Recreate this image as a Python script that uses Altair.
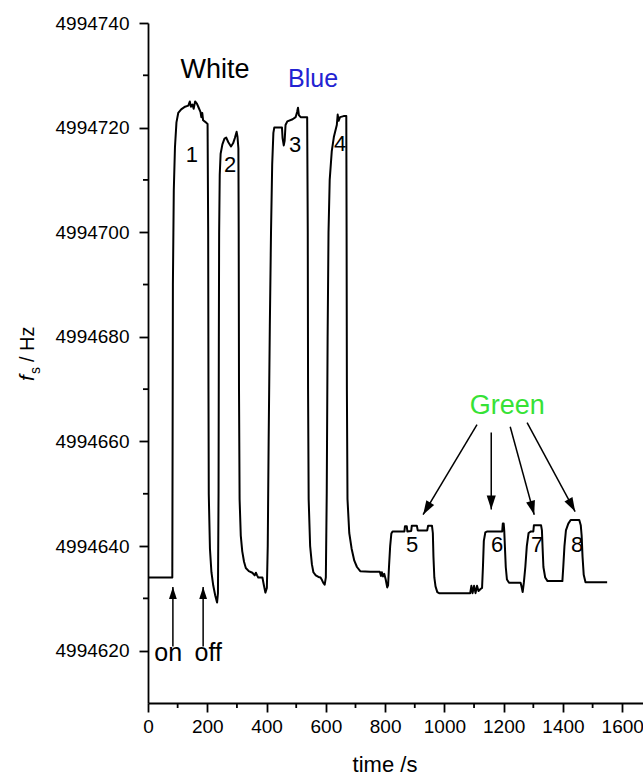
import math
import altair as alt
import pandas as pd

# ---------------- data ----------------
time_s = [0, 82, 83, 84, 87, 91, 96, 102, 112, 125, 136, 141, 145, 150, 154, 159, 165, 171, 177, 180,
          183, 186, 193, 201, 203, 204, 205, 209, 214, 220, 227, 233, 236, 238, 239, 240, 242, 245, 251,
          258, 264, 271, 280, 287, 293, 299, 302, 305, 306, 307, 309, 313, 318, 324, 330, 340, 352, 360,
          364, 368, 372, 386, 391, 396, 401, 404, 407, 411, 415, 419, 423, 426, 452, 454, 458, 461, 464,
          470, 488, 498, 503, 506, 509, 515, 537, 539, 540, 542, 547, 553, 558, 566, 575, 582, 587, 591,
          596, 600, 603, 606, 609, 613, 620, 627, 633, 637, 640, 643, 648, 660, 669, 670, 671, 673, 679,
          687, 696, 705, 716, 750, 782, 786, 789, 793, 797, 802, 807, 810, 813, 817, 821, 825, 865, 867,
          873, 875, 888, 890, 907, 910, 942, 945, 958, 961, 963, 966, 970, 976, 982, 1087, 1091, 1095,
          1100, 1105, 1110, 1115, 1122, 1127, 1130, 1133, 1138, 1145, 1195, 1197, 1200, 1202, 1204, 1207,
          1211, 1218, 1257, 1260, 1264, 1268, 1273, 1278, 1284, 1292, 1300, 1302, 1326, 1329, 1331, 1334,
          1340, 1348, 1398, 1401, 1405, 1410, 1418, 1426, 1455, 1460, 1463, 1466, 1470, 1476, 1549]
freq_hz = [4994634.0, 4994634.0, 4994660.0, 4994690.0, 4994708.0, 4994716.3, 4994721.0, 4994722.8,
           4994723.5, 4994724.0, 4994724.2, 4994725.0, 4994724.0, 4994724.4, 4994723.6, 4994725.0,
           4994724.6, 4994723.8, 4994723.0, 4994722.0, 4994722.8, 4994721.4, 4994721.1, 4994720.7,
           4994700.0, 4994670.0, 4994650.0, 4994639.5, 4994635.0, 4994632.5, 4994630.5, 4994629.2,
           4994631.0, 4994650.0, 4994680.0, 4994700.0, 4994711.0, 4994715.0, 4994716.8, 4994717.9,
           4994718.1, 4994717.2, 4994716.4, 4994717.0, 4994718.0, 4994719.2, 4994718.2, 4994716.0,
           4994700.0, 4994670.0, 4994649.0, 4994642.0, 4994639.0, 4994637.0, 4994635.8, 4994635.2,
           4994634.9, 4994634.4, 4994634.9, 4994634.4, 4994634.0, 4994634.0, 4994632.5, 4994631.1,
           4994632.0, 4994640.0, 4994660.0, 4994682.0, 4994700.0, 4994713.0, 4994719.0, 4994720.0,
           4994720.0, 4994718.0, 4994716.6, 4994717.5, 4994720.5, 4994721.2, 4994721.6, 4994722.0,
           4994723.0, 4994723.8, 4994722.4, 4994722.0, 4994722.0, 4994700.0, 4994670.0, 4994649.0,
           4994640.0, 4994636.5, 4994635.0, 4994634.4, 4994634.1, 4994634.0, 4994633.5, 4994633.0,
           4994632.6, 4994634.0, 4994650.0, 4994680.0, 4994700.0, 4994710.0, 4994715.5, 4994718.2,
           4994719.6, 4994720.5, 4994722.5, 4994721.3, 4994722.0, 4994722.2, 4994722.2, 4994700.0,
           4994670.0, 4994649.0, 4994642.5, 4994639.5, 4994637.2, 4994636.0, 4994635.2, 4994635.1,
           4994635.1, 4994634.3, 4994635.0, 4994634.2, 4994634.7, 4994633.6, 4994632.1, 4994632.5,
           4994636.0, 4994640.0, 4994642.4, 4994642.8, 4994642.8, 4994643.8, 4994643.8, 4994642.8,
           4994642.9, 4994643.9, 4994643.9, 4994643.0, 4994643.0, 4994643.9, 4994643.9, 4994642.5,
           4994638.0, 4994634.0, 4994632.3, 4994631.2, 4994631.0, 4994631.0, 4994632.4, 4994631.0,
           4994632.4, 4994631.0, 4994632.4, 4994631.4, 4994631.8, 4994632.0, 4994636.0, 4994641.0,
           4994642.6, 4994642.8, 4994642.8, 4994644.3, 4994644.3, 4994642.8, 4994640.0, 4994636.0,
           4994633.6, 4994633.0, 4994633.0, 4994632.3, 4994631.2, 4994633.0, 4994636.0, 4994640.0,
           4994642.5, 4994642.8, 4994642.8, 4994644.0, 4994644.0, 4994643.0, 4994640.0, 4994636.0,
           4994634.0, 4994633.3, 4994633.3, 4994636.0, 4994640.0, 4994643.0, 4994644.3, 4994645.0,
           4994645.0, 4994644.0, 4994642.0, 4994638.0, 4994634.5, 4994633.1, 4994633.1]

x_major_ticks = [0, 200, 400, 600, 800, 1000, 1200, 1400, 1600]
x_minor_ticks = [100, 300, 500, 700, 900, 1100, 1300, 1500]
y_major_ticks = [4994620, 4994640, 4994660, 4994680, 4994700, 4994720, 4994740]
y_minor_ticks = [4994630, 4994650, 4994670, 4994690, 4994710, 4994730]

# numbered peaks
peak_labels = ["1", "2", "3", "4", "5", "6", "7", "8"]
peak_label_t = [148, 277, 496, 648, 891, 1178, 1313, 1448]
peak_label_f = [4994714.8, 4994712.9, 4994716.7, 4994716.9, 4994640.3, 4994640.3, 4994640.3, 4994640.3]

# on / off markers
onoff_labels = ["on", "off"]
onoff_label_t = [68, 203]
onoff_label_f = [4994619.5, 4994619.5]
onoff_tail_t = [84, 186]
onoff_tail_f = [4994620.8, 4994620.8]
onoff_tip_t = [84, 186]
onoff_tip_f = [4994632.2, 4994632.2]

# Green arrows
green_tail_t = [1110, 1158, 1222, 1279]
green_tail_f = [4994663.2, 4994661.7, 4994662.8, 4994663.6]
green_tip_t = [928, 1158, 1303, 1441]
green_tip_f = [4994646.0, 4994647.0, 4994646.0, 4994646.6]

# colour group labels
group_labels = ["White", "Blue", "Green"]
group_t = [226, 557, 1212]
group_f = [4994731.0, 4994729.3, 4994666.8]
group_colors = ["#000000", "#2323d2", "#36e236"]
group_sizes = [27, 25, 27]

# ---------------- layout ----------------
X_MAX = 1670
Y_MIN, Y_MAX = 4994610, 4994740
W, H = 495, 680
PAD_L, PAD_T = 148, 23
FONT = "Liberation Sans, Arial, Helvetica, sans-serif"

xs = alt.Scale(domain=[0, X_MAX], nice=False, zero=False)
ys = alt.Scale(domain=[Y_MIN, Y_MAX], nice=False, zero=False)
x_axis = alt.Axis(values=x_major_ticks, title=None, format="d", labelFlush=False,
                  labelOverlap=False, labelPadding=5)
y_axis = alt.Axis(values=y_major_ticks, title=None, format="d", labelFlush=False,
                  labelOverlap=False, labelPadding=10)


def X(field):
    return alt.X(field, scale=xs, axis=x_axis, title=None)


def Y(field):
    return alt.Y(field, scale=ys, axis=y_axis, title=None)


def arrow_angle(t0, f0, t1, f1):
    dx = (t1 - t0) * W / X_MAX
    dy = -(f1 - f0) * H / (Y_MAX - Y_MIN)
    return math.degrees(math.atan2(dx, -dy)) % 360


trace = pd.DataFrame({"t": time_s, "f": freq_hz, "i": list(range(len(time_s)))})

line = alt.Chart(trace).mark_line(color="black", strokeWidth=2, strokeJoin="round").encode(
    x=X("t:Q"), y=Y("f:Q"), order="i:Q")

ymin_df = pd.DataFrame({"f": y_minor_ticks})
y_minor = alt.Chart(ymin_df).mark_rule(color="black", strokeWidth=1.8).encode(
    y=Y("f:Q"), x=alt.value(-5), x2=alt.value(0))

xmin_df = pd.DataFrame({"t": x_minor_ticks})
x_minor = alt.Chart(xmin_df).mark_rule(color="black", strokeWidth=1.8).encode(
    x=X("t:Q"), y=alt.value(H), y2=alt.value(H + 5))

peaks_df = pd.DataFrame({"label": peak_labels, "t": peak_label_t, "f": peak_label_f})
peak_text = alt.Chart(peaks_df).mark_text(font=FONT, fontSize=22, color="black",
                                          align="center", baseline="middle").encode(
    x=X("t:Q"), y=Y("f:Q"), text="label:N")

grp_layers = []
for lab, t, f, c, s in zip(group_labels, group_t, group_f, group_colors, group_sizes):
    d = pd.DataFrame({"label": [lab], "t": [t], "f": [f]})
    grp_layers.append(alt.Chart(d).mark_text(font=FONT, fontSize=s, color=c, align="center",
                                             baseline="middle").encode(
        x=X("t:Q"), y=Y("f:Q"), text="label:N"))

onoff_df = pd.DataFrame({"label": onoff_labels, "t": onoff_label_t, "f": onoff_label_f})
onoff_text = alt.Chart(onoff_df).mark_text(font=FONT, fontSize=25, color="black",
                                           align="center", baseline="middle").encode(
    x=X("t:Q"), y=Y("f:Q"), text="label:N")

arrows = pd.DataFrame({
    "t": onoff_tail_t + green_tail_t,
    "f": onoff_tail_f + green_tail_f,
    "t1": onoff_tip_t + green_tip_t,
    "f1": onoff_tip_f + green_tip_f,
    "kind": ["small"] * 2 + ["big"] * 4,
})
arrows["angle"] = [arrow_angle(a, b, c, d) for a, b, c, d in
                   zip(arrows.t, arrows.f, arrows.t1, arrows.f1)]

arrow_lines = alt.Chart(arrows).mark_rule(color="black", strokeWidth=1.5).encode(
    x=X("t:Q"), y=Y("f:Q"), x2="t1:Q", y2="f1:Q")

heads = pd.DataFrame({"t": arrows.t1, "f": arrows.f1, "angle": arrows.angle, "kind": arrows.kind})
HEAD = "M0,0L-0.65,2L0.65,2Z"
heads_small = alt.Chart(heads[heads.kind == "small"]).mark_point(
    shape=HEAD, filled=True, fill="black", strokeWidth=0, size=144, opacity=1).encode(
    x=X("t:Q"), y=Y("f:Q"), angle=alt.Angle("angle:Q", scale=None))
heads_big = alt.Chart(heads[heads.kind == "big"]).mark_point(
    shape=HEAD, filled=True, fill="black", strokeWidth=0, size=196, opacity=1).encode(
    x=X("t:Q"), y=Y("f:Q"), angle=alt.Angle("angle:Q", scale=None))

# axis titles (as text, so that the italic f and subscript s can be drawn)
one = pd.DataFrame({"k": [0]})


def label(txt, x_abs, y_abs, size, angle=0, style="normal", align="center", baseline="middle"):
    return alt.Chart(one).mark_text(text=txt, font=FONT, fontSize=size, fontStyle=style,
                                    color="black", angle=angle, align=align,
                                    baseline=baseline).encode(
        x=alt.value(x_abs - PAD_L), y=alt.value(y_abs - PAD_T))


x_title = label("time /s", 385, 765, 22)
y_f = label("f", 34, 381, 21, angle=270, style="italic", align="left", baseline="alphabetic")
y_s = label("s", 40, 374, 14, angle=270, align="left", baseline="alphabetic")
y_hz = label("/ Hz", 34, 362, 20, angle=270, align="left", baseline="alphabetic")

chart = alt.layer(
    line, y_minor, x_minor, arrow_lines, heads_small, heads_big, peak_text, onoff_text,
    *grp_layers, x_title, y_f, y_s, y_hz
).properties(
    width=W, height=H,
    autosize=alt.AutoSizeParams(type="none"),
    padding={"left": PAD_L, "top": PAD_T, "right": 0, "bottom": 779 - PAD_T - H},
).configure_view(stroke=None).configure_axis(
    grid=False, domainColor="black", domainWidth=1.8, tickColor="black", tickWidth=1.8,
    tickSize=9, labelFont=FONT, labelFontSize=19, labelColor="black",
)

chart.save("out.html", embed_options={"renderer": "svg", "actions": False})
